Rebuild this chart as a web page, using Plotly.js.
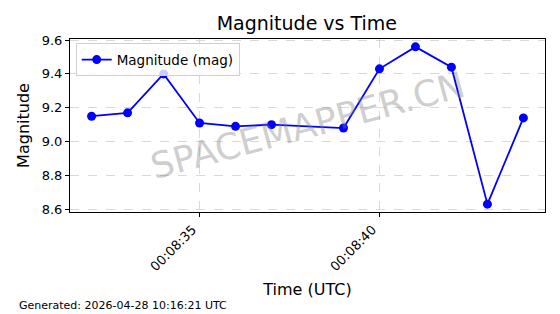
<!DOCTYPE html>
<html><head><meta charset="utf-8">
<script src="https://cdn.plot.ly/plotly-3.0.1.min.js"></script>
<style>html,body{margin:0;padding:0;background:#fff}</style>
</head><body>
<div id="chart" style="width:560px;height:314px"></div>
<script>
const times = ["2026-04-28 00:08:32","2026-04-28 00:08:33","2026-04-28 00:08:34","2026-04-28 00:08:35","2026-04-28 00:08:36","2026-04-28 00:08:37","2026-04-28 00:08:39","2026-04-28 00:08:40","2026-04-28 00:08:41","2026-04-28 00:08:42","2026-04-28 00:08:43","2026-04-28 00:08:44"];
const magnitudes = [9.15, 9.17, 9.40, 9.11, 9.09, 9.10, 9.08, 9.43, 9.56, 9.44, 8.63, 9.14];
const yTicks = [8.6, 8.8, 9.0, 9.2, 9.4, 9.6];
const titleText = "Magnitude vs Time";
const seriesName = "Magnitude (mag)";
const footerText = "Generated: 2026-04-28 10:16:21 UTC";
const watermark = "SPACEMAPPER.CN";

const font = "DejaVu Sans, sans-serif";
const trace = {
  x: times, y: magnitudes, type: "scatter", mode: "lines+markers",
  name: seriesName,
  line: {color: "#0000ff", width: 1.8},
  marker: {color: "#0000ff", size: 9}
};
const layout = {
  width: 560, height: 314,
  margin: {l: 70, r: 15, t: 39, b: 102},
  paper_bgcolor: "#fff", plot_bgcolor: "#fff",
  font: {family: font, color: "#000"},
  title: {text: titleText, font: {size: 19, family: font}, x: 0.548, xanchor: "center", y: 0.925, yanchor: "middle"},
  showlegend: true,
  legend: {x: 0.012, y: 0.975, xanchor: "left", yanchor: "top", bgcolor: "rgba(255,255,255,0.8)", bordercolor: "#d0d0d0", borderwidth: 1, font: {size: 13.5, family: font}},
  xaxis: {
    type: "date",
    range: ["2026-04-28 00:08:31.4", "2026-04-28 00:08:44.6"],
    tick0: "2026-04-28 00:08:35", dtick: 5000,
    tickformat: "%H:%M:%S", tickangle: -45, ticklabelshift: -7,
    ticks: "outside", ticklen: 4, tickcolor: "#000",
    showline: true, linecolor: "#000", linewidth: 1, mirror: true,
    showgrid: true, gridcolor: "#d0d0d0", griddash: "dash", gridwidth: 0.8,
    zeroline: false,
    tickfont: {size: 13, family: font},
    title: {text: "Time (UTC)", font: {size: 16, family: font}, standoff: 10}
  },
  yaxis: {
    range: [8.5835, 9.6065],
    tickvals: yTicks, ticktext: yTicks.map(v => v.toFixed(1)),
    ticks: "outside", ticklen: 4, tickcolor: "#000",
    showline: true, linecolor: "#000", linewidth: 1, mirror: true,
    showgrid: true, gridcolor: "#d0d0d0", griddash: "dash", gridwidth: 0.8,
    zeroline: false,
    tickfont: {size: 13, family: font},
    title: {text: "Magnitude", font: {size: 16, family: font}, standoff: 8}
  },
  annotations: [
    {text: watermark, xref: "paper", yref: "paper", x: 0.5, y: 0.5, showarrow: false,
     textangle: -15, font: {size: 36, family: font, color: "rgba(128,128,128,0.4)"}},
    {text: footerText, xref: "paper", yref: "paper", x: -0.1116, y: -0.538, xanchor: "left", yanchor: "middle",
     showarrow: false, font: {size: 11, family: font, color: "#000"}}
  ]
};
Plotly.newPlot("chart", [trace], layout, {displayModeBar: false, staticPlot: true});
</script>
</body></html>
